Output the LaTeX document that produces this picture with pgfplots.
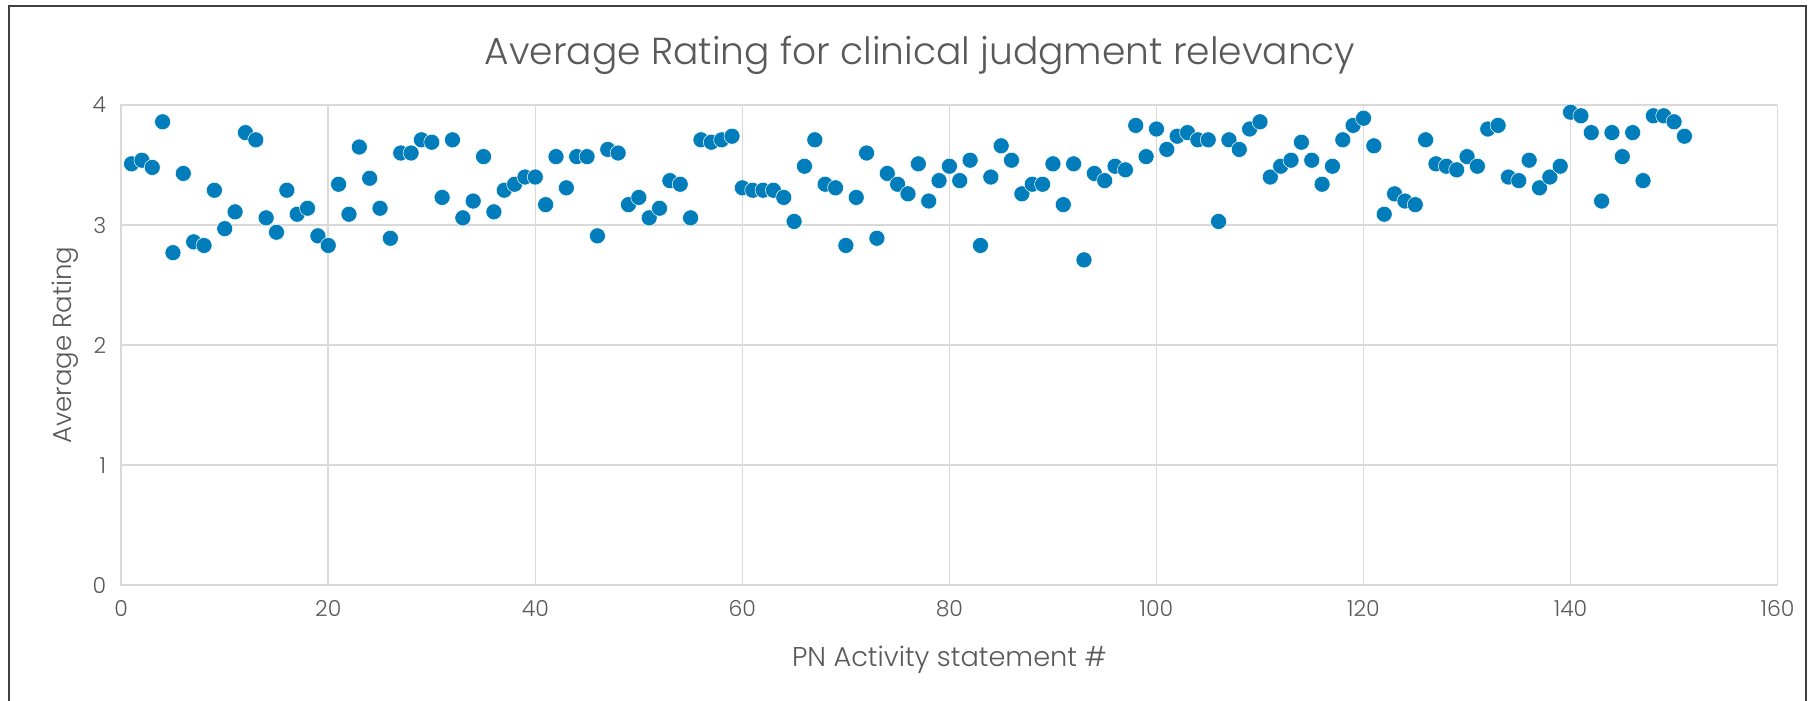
\documentclass[border=0pt]{standalone}
\usepackage{pgfplots}
\pgfplotsset{compat=1.18}
\usepackage{fontspec}
\setmainfont{Poppins}[UprightFont=* Light]
\definecolor{txt}{HTML}{595959}
\definecolor{gridc}{HTML}{D9D9D9}
\definecolor{pt}{RGB}{0,125,186}
\begin{document}
\begin{tikzpicture}[x=0.5pt,y=0.5pt]
\useasboundingbox (0,0) rectangle (1810,701);
\draw[black!75,line width=0.8pt] (9,-5) rectangle (1806,695);
\node[text=txt,font=\fontsize{18.8}{22}\selectfont] at (920,646) {Average Rating for clinical judgment relevancy};
\begin{axis}[
  at={(121.2*0.5pt,115.8*0.5pt)}, anchor=south west,
  scale only axis, width=828.2pt, height=240.1pt,
  xmin=0, xmax=160, ymin=0, ymax=4,
  xtick={0,20,...,160}, ytick={0,1,2,3,4},
  grid=major, major grid style={gridc,line width=0.8pt},
  axis line style={gridc,line width=0.8pt},
  tick style={draw=none},
  ticklabel style={text=txt,font=\fontsize{11}{12}\selectfont},
  /pgf/number format/assume math mode=true,
  xticklabel style={yshift=-4pt},
  yticklabel style={xshift=-4pt},
  xlabel={PN Activity statement \#},
  ylabel={Average Rating},
  xlabel style={text=txt,font=\fontsize{13.6}{15}\selectfont,yshift=-8pt},
  ylabel style={text=txt,font=\fontsize{13}{15}\selectfont},
  clip=false,
]
\addplot[only marks, mark=*, mark size=4pt, mark options={fill=pt,draw=white,line width=0.25pt}] coordinates {
(1,3.51)(2,3.54)(3,3.48)(4,3.86)(5,2.77)(6,3.43)(7,2.86)(8,2.83)(9,3.29)(10,2.97)
(11,3.11)(12,3.77)(13,3.71)(14,3.06)(15,2.94)(16,3.29)(17,3.09)(18,3.14)(19,2.91)(20,2.83)
(21,3.34)(22,3.09)(23,3.65)(24,3.39)(25,3.14)(26,2.89)(27,3.60)(28,3.60)(29,3.71)(30,3.69)
(31,3.23)(32,3.71)(33,3.06)(34,3.20)(35,3.57)(36,3.11)(37,3.29)(38,3.34)(39,3.40)(40,3.40)
(41,3.17)(42,3.57)(43,3.31)(44,3.57)(45,3.57)(46,2.91)(47,3.63)(48,3.60)(49,3.17)(50,3.23)
(51,3.06)(52,3.14)(53,3.37)(54,3.34)(55,3.06)(56,3.71)(57,3.69)(58,3.71)(59,3.74)(60,3.31)
(61,3.29)(62,3.29)(63,3.29)(64,3.23)(65,3.03)(66,3.49)(67,3.71)(68,3.34)(69,3.31)(70,2.83)
(71,3.23)(72,3.60)(73,2.89)(74,3.43)(75,3.34)(76,3.26)(77,3.51)(78,3.20)(79,3.37)(80,3.49)
(81,3.37)(82,3.54)(83,2.83)(84,3.40)(85,3.66)(86,3.54)(87,3.26)(88,3.34)(89,3.34)(90,3.51)
(91,3.17)(92,3.51)(93,2.71)(94,3.43)(95,3.37)(96,3.49)(97,3.46)(98,3.83)(99,3.57)(100,3.80)
(101,3.63)(102,3.74)(103,3.77)(104,3.71)(105,3.71)(106,3.03)(107,3.71)(108,3.63)(109,3.80)(110,3.86)
(111,3.40)(112,3.49)(113,3.54)(114,3.69)(115,3.54)(116,3.34)(117,3.49)(118,3.71)(119,3.83)(120,3.89)
(121,3.66)(122,3.09)(123,3.26)(124,3.20)(125,3.17)(126,3.71)(127,3.51)(128,3.49)(129,3.46)(130,3.57)
(131,3.49)(132,3.80)(133,3.83)(134,3.40)(135,3.37)(136,3.54)(137,3.31)(138,3.40)(139,3.49)(140,3.94)
(141,3.91)(142,3.77)(143,3.20)(144,3.77)(145,3.57)(146,3.77)(147,3.37)(148,3.91)(149,3.91)(150,3.86)
(151,3.74)
};
\end{axis}
\end{tikzpicture}
\end{document}
